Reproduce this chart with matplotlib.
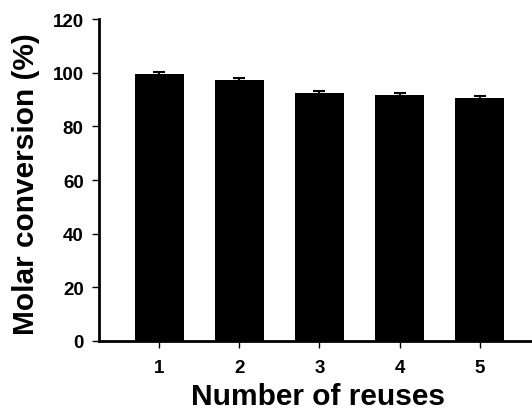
import matplotlib
matplotlib.use('Agg')
import matplotlib.pyplot as plt

reuses = [1, 2, 3, 4, 5]
conversion = [99.5, 97.4, 92.6, 91.8, 90.6]
errors = [0.6, 0.6, 0.6, 0.6, 0.6]

plt.rcParams['font.family'] = ['Liberation Sans', 'DejaVu Sans']
plt.rcParams['font.weight'] = 'bold'

fig = plt.figure(figsize=(5.32, 4.10), dpi=100)
ax = fig.add_axes([0.186, 0.166, 0.814, 0.785])

ax.bar(reuses, conversion, width=0.61, color='black',
       yerr=errors, ecolor='black', capsize=4,
       error_kw={'elinewidth': 1.5, 'capthick': 1.5})

ax.set_xlim(0.25, 5.65)
ax.set_ylim(0, 120)
ax.set_yticks(range(0, 121, 20))
ax.set_xticks(reuses)

for side in ['top', 'right']:
    ax.spines[side].set_visible(False)
for side in ['left', 'bottom']:
    ax.spines[side].set_linewidth(2)

ax.tick_params(axis='both', direction='out', width=1, length=5, labelsize=13.5)
ax.tick_params(axis='x', pad=8)
ax.tick_params(axis='y', pad=6)

ax.set_xlabel('Number of reuses', fontsize=21.5, fontweight='bold')
ax.set_ylabel('Molar conversion (%)', fontsize=21.5, fontweight='bold')
ax.xaxis.set_label_coords(0.505, -0.128)
ax.yaxis.set_label_coords(-0.135, 0.49)

fig.savefig('out.png', dpi=100)
